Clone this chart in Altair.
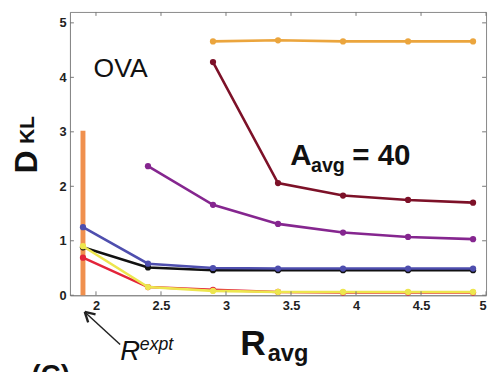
import altair as alt
import pandas as pd

FONT = "Liberation Sans"

# ---- data ----
r_avg = [1.9, 2.4, 2.9, 3.4, 3.9, 4.4, 4.9]
s_orange = [None, None, 4.66, 4.68, 4.66, 4.66, 4.66]
s_darkred = [None, None, 4.28, 2.06, 1.83, 1.75, 1.70]
s_purple = [None, 2.37, 1.66, 1.31, 1.15, 1.07, 1.03]
s_black = [0.88, 0.51, 0.46, 0.46, 0.46, 0.46, 0.46]
s_blue = [1.25, 0.58, 0.50, 0.49, 0.49, 0.49, 0.49]
s_red = [0.69, 0.15, 0.10, 0.06, 0.05, 0.05, 0.05]
s_yellow = [0.90, 0.15, 0.08, 0.06, 0.06, 0.06, 0.06]
r_expt = [1.9]
r_expt_top = [3.02]
x_ticks = [2, 2.5, 3, 3.5, 4, 4.5, 5]
y_ticks = [0, 1, 2, 3, 4, 5]

series = [
    ("orange", s_orange, "#EBA53D"),
    ("darkred", s_darkred, "#7D1128"),
    ("purple", s_purple, "#85268F"),
    ("black", s_black, "#111111"),
    ("blue", s_blue, "#4E4EAE"),
    ("red", s_red, "#E3243A"),
    ("yellow", s_yellow, "#EDE64E"),
]

W, H = 423, 288

xscale = alt.Scale(domain=[1.8, 5], nice=False, zero=False)
yscale = alt.Scale(domain=[0, 5.2], nice=False, zero=True)
xaxis = alt.Axis(values=x_ticks, format="~g", title=None, tickSize=0, labelPadding=5,
                 grid=False)
yaxis = alt.Axis(values=y_ticks, format="d", title=None, tickSize=0, labelPadding=4,
                 grid=False)

layers = []

# experimental R line
df_exp = pd.DataFrame({"r": r_expt, "d0": [0.0], "d1": r_expt_top})
layers.append(
    alt.Chart(df_exp).mark_rule(color="#EF8A45", strokeWidth=5, opacity=0.95).encode(
        x=alt.X("r:Q", scale=xscale, axis=xaxis),
        y=alt.Y("d0:Q", scale=yscale, axis=yaxis),
        y2="d1:Q",
    )
)

for name, vals, col in series:
    df = pd.DataFrame({"r": r_avg, "d": vals}).dropna()
    layers.append(
        alt.Chart(df).mark_line(color=col, strokeWidth=2.6,
                                point=alt.OverlayMarkDef(filled=True, size=40, color=col)).encode(
            x=alt.X("r:Q", scale=xscale, axis=xaxis),
            y=alt.Y("d:Q", scale=yscale, axis=yaxis),
        )
    )

# inward ticks
dfx = pd.DataFrame({"r": x_ticks})
dfy = pd.DataFrame({"d": y_ticks})
tick_style = dict(color="#777", strokeWidth=1)
layers.append(alt.Chart(dfx).mark_rule(**tick_style).encode(
    x=alt.X("r:Q", scale=xscale, axis=xaxis), y=alt.value(H), y2=alt.value(H - 4)))
layers.append(alt.Chart(dfx).mark_rule(**tick_style).encode(
    x=alt.X("r:Q", scale=xscale, axis=xaxis), y=alt.value(0), y2=alt.value(4)))
layers.append(alt.Chart(dfy).mark_rule(**tick_style).encode(
    y=alt.Y("d:Q", scale=yscale, axis=yaxis), x=alt.value(0), x2=alt.value(4)))
layers.append(alt.Chart(dfy).mark_rule(**tick_style).encode(
    y=alt.Y("d:Q", scale=yscale, axis=yaxis), x=alt.value(W), x2=alt.value(W - 4)))


def label(text, x, y, size, weight="bold", style="normal", angle=0, align="left",
          baseline="alphabetic"):
    return alt.Chart(alt.Data(values=[{"t": text}])).mark_text(
        align=align, baseline=baseline, fontSize=size, fontWeight=weight,
        fontStyle=style, angle=angle, font=FONT, color="#111"
    ).encode(x=alt.value(x), y=alt.value(y), text="t:N")


layers += [
    label("OVA", 24, 66, 27, weight="normal"),
    label("A", 224, 156, 30),
    label("avg", 245, 163, 20),
    label("= 40", 287, 156, 30),
    label("D", -34, 164, 32, angle=270),
    label("KL", -37, 134, 21, angle=270),
    label("R", 173, 349, 36),
    label("avg", 201, 355, 24),
    label("R", 51, 354, 28, weight="normal", style="italic"),
    label("expt", 71, 344, 18, weight="normal", style="italic"),
    label("(C)", -39, 378, 28),
]

# arrow to R_expt
def seg(x1, y1, x2, y2, w=1.5):
    return alt.Chart(alt.Data(values=[{}])).mark_rule(color="#222", strokeWidth=w).encode(
        x=alt.value(x1), y=alt.value(y1), x2=alt.value(x2), y2=alt.value(y2))

layers += [
    seg(51, 338, 15, 305, 1.5),
    seg(15, 305, 26, 307.5, 2.4),
    seg(15, 305, 18.5, 315.5, 2.4),
]

chart = alt.layer(*layers).properties(
    width=W, height=H,
    padding={"left": 63, "top": 1, "right": 3, "bottom": 75},
    autosize=alt.AutoSizeParams(type="none"),
).configure_view(stroke="#888", strokeWidth=1).configure_axis(
    labelFont=FONT, labelFontSize=13, labelFontWeight="bold", labelColor="#222",
    domainColor="#888", domainWidth=1,
)

chart.save("out.html", embed_options={"renderer": "svg", "actions": False})
